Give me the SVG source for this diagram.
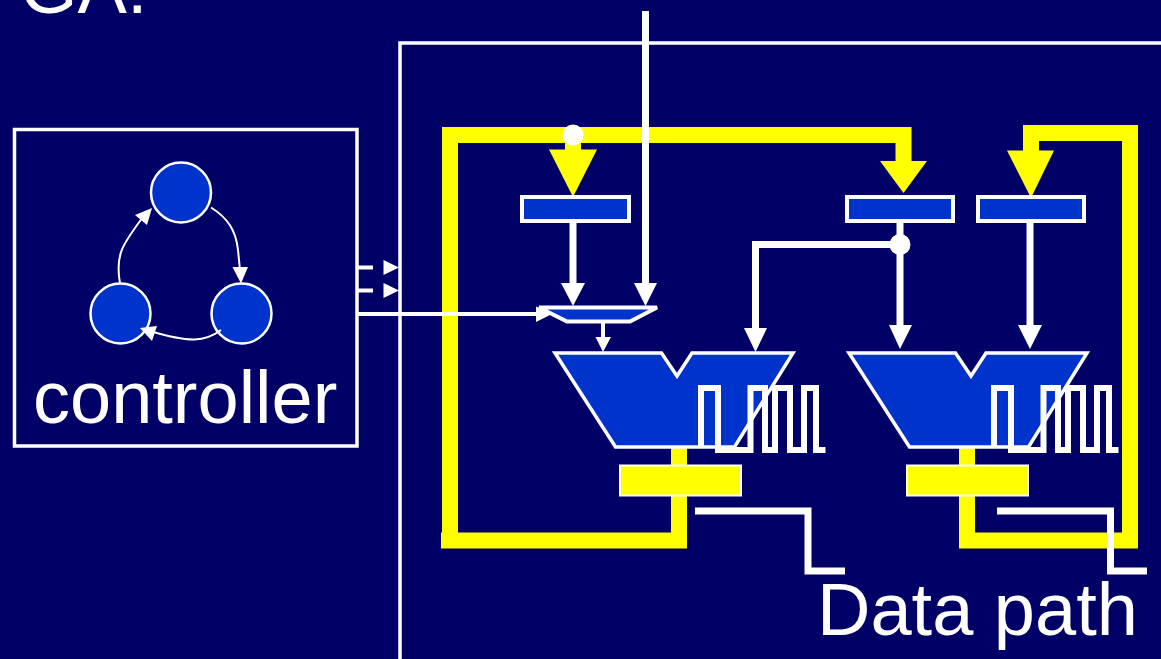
<svg xmlns="http://www.w3.org/2000/svg" width="1161" height="659" viewBox="0 0 1161 659">
<defs>
<style>
.lbl{font-family:"Liberation Sans",Arial,sans-serif;font-size:74px;fill:#fff}
.w{fill:none;stroke:#fff;stroke-miterlimit:20}
.y{fill:none;stroke:#ff0;stroke-width:16;stroke-linecap:butt;stroke-miterlimit:20}
.hw{fill:#fff}
.hy{fill:#ff0}
.blue{fill:#0033cc;stroke:#fff}
.yreg{fill:#ff0;stroke:#fff;stroke-width:2}
.wave{fill:none;stroke:#fff;stroke-width:6;stroke-linejoin:miter}
.st{fill:#0033cc;stroke:#fff;stroke-width:2.5}
</style>
</defs>
<rect id="background" width="1161" height="659" fill="#000066"/>
<text id="title" class="lbl" x="20" y="13">GA:</text>
<g id="datapath-box"><path class="w" stroke-width="3.5" d="M400 659V43H1161"/></g>
<g id="connectors">
<path class="y" d="M450 548V135H903.500V165"/>
<path class="y" d="M441 540.500H679V448"/>
<path class="y" d="M967 448V540.500H1138"/>
<path class="y" d="M1130 548V133H1031V155"/>
<rect class="hy" x="565" y="135" width="16" height="20"/>
<polygon class="hy" points="549,149.500 597,149.500 573,197"/>
<polygon class="hy" points="880,161 927,161 903.500,193"/>
<polygon class="hy" points="1007,150.500 1054,150.500 1031,198"/>
<circle class="hw" cx="573" cy="135" r="10.500"/>
<path class="w" stroke-width="7" d="M645.500 11V285"/>
<polygon class="hw" points="634,283 657,283 645.500,306"/>
<path class="w" stroke-width="7" d="M573 222V285"/>
<polygon class="hw" points="561,283 585,283 573,306"/>
<path class="w" stroke-width="7" d="M900 222V327"/>
<polygon class="hw" points="889,325 912,325 900,349"/>
<path class="w" stroke-width="7" d="M900 244.500H755.500V330"/>
<polygon class="hw" points="744,328 767,328 755.500,352"/>
<circle class="hw" cx="900" cy="244.500" r="10.500"/>
<path class="w" stroke-width="7" d="M1030 222V327"/>
<polygon class="hw" points="1018,325 1042,325 1030,349"/>
<path class="w" stroke-width="4" d="M603 323V339"/>
<polygon class="hw" points="595.500,337 611,337 603,352"/>
<path class="w" stroke-width="4" d="M357 314H540"/>
<polygon class="hw" points="536,306.500 552,314 536,322"/>
<path class="w" stroke-width="4" d="M357 267.500H373M357 290.500H373"/>
<polygon class="hw" points="383.500,260 399,267.500 383.500,275"/>
<polygon class="hw" points="383.500,283 399,290.500 383.500,298"/>
</g>
<g id="reg-1"><rect class="blue" stroke-width="4" x="522" y="197" width="107" height="24"/></g>
<g id="reg-2"><rect class="blue" stroke-width="4" x="847" y="197" width="106" height="24"/></g>
<g id="reg-3"><rect class="blue" stroke-width="4" x="978" y="197" width="106" height="24"/></g>
<g id="mux"><polygon class="blue" stroke-width="4" points="539,307.500 657,307.500 630,321.500 567,321.500"/></g>
<g id="alu-1">
<polygon class="blue" stroke-width="3.500" points="555,353 661.500,353 677,376 692,353 793,353 734.500,447 615.500,447"/>
<path class="wave" d="M701 447V388H718V450H750.500V388H765V450H775V388H790V450H804V388H816V450H825.500"/>
</g>
<g id="alu-2">
<polygon class="blue" stroke-width="3.500" points="849,353 955.500,353 971,376 986,353 1087,353 1028.500,447 909.500,447"/>
<path class="wave" d="M994 447V388H1011V450H1043.500V388H1058V450H1068V388H1083V450H1097V388H1109V450H1118.500"/>
</g>
<g id="yreg-1"><rect class="yreg" x="620" y="465.500" width="121" height="30"/></g>
<g id="yreg-2"><rect class="yreg" x="907" y="465.500" width="121" height="30"/></g>
<g id="leaders">
<path class="w" stroke-width="7" d="M695 511H808V571H845"/>
<path class="w" stroke-width="7" d="M997 511H1110.500V571H1147"/>
</g>
<g id="controller">
<rect x="14.500" y="129.500" width="342.500" height="316.500" fill="none" stroke="#fff" stroke-width="3.500"/>
<circle class="st" cx="181" cy="192.500" r="30"/>
<circle class="st" cx="120.500" cy="313.500" r="30"/>
<circle class="st" cx="241.500" cy="313.500" r="30"/>
<path class="w" stroke-width="2" d="M211 207.500C228 218 236 231 238 250L240 270"/>
<polygon class="hw" points="232.500,267 248,267 241,283.500"/>
<path class="w" stroke-width="2" d="M221 330C205 342 190 343 150 331"/>
<polygon class="hw" points="157,326 152,341 140,328"/>
<path class="w" stroke-width="2" d="M120 283.500C115 255 122 245 143 217"/>
<polygon class="hw" points="135,215 147,225 152,208"/>
<text class="lbl" x="33" y="423">controller</text>
</g>
<text id="datapath-label" class="lbl" x="817" y="635">Data path</text>
</svg>
